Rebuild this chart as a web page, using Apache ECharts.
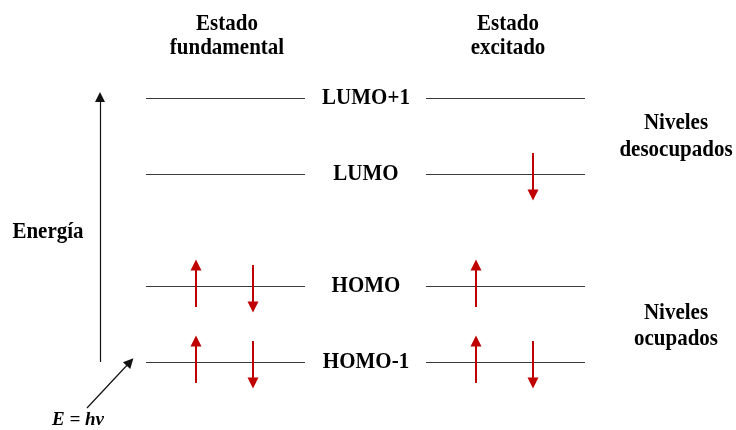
<!DOCTYPE html>
<html>
<head>
<meta charset="utf-8">
<script src="https://cdn.jsdelivr.net/npm/echarts@6/dist/echarts.min.js"></script>
<style>html,body{margin:0;padding:0;background:#fff}#c{width:736px;height:430px}</style>
</head>
<body>
<div id="c"></div>
<script>
// ---- data ----
const levelNames = ['HOMO-1', 'HOMO', 'LUMO', 'LUMO+1'];
const levelEnergy = [0, 76, 188, 264];           // relative energy units
const stateNames = ['Estado\nfundamental', 'Estado\nexcitado'];
// electrons
const electronState = [0, 0, 0, 0, 1, 1, 1, 1];
const electronLevel = ['HOMO-1', 'HOMO-1', 'HOMO', 'HOMO', 'HOMO-1', 'HOMO-1', 'HOMO', 'LUMO'];
const electronSlot  = [0, 1, 0, 1, 0, 1, 0, 1];
const electronSpin  = ['up', 'down', 'up', 'down', 'up', 'down', 'up', 'down'];
const groupNames = ['Niveles\ndesocupados', 'Niveles\nocupados'];
const axisTitle = 'Energía';
const photonLabel = 'E = hν';

// ---- layout (not data) ----
const colStart = [146, 426], colWidth = 159, slotOffset = [50, 107];
const labelX = 366, arrowHalf = 21;
const energyAxisX = 100, energyAxisTop = 265;
const photonFrom = [87, -46];
const FONT = 'Liberation Serif';
const SY = 1.1;

const levelSegs = [];
stateNames.forEach((s, si) => {
  levelEnergy.forEach(e => {
    levelSegs.push({ coords: [[colStart[si], e], [colStart[si] + colWidth, e]] });
  });
});
const elecSegs = electronState.map((si, i) => {
  const e = levelEnergy[levelNames.indexOf(electronLevel[i])];
  const x = colStart[si] + slotOffset[electronSlot[i]];
  const up = electronSpin[i] === 'up';
  return { coords: up ? [[x, e - arrowHalf], [x, e + arrowHalf]] : [[x, e + arrowHalf], [x, e - arrowHalf]] };
});

const chart = echarts.init(document.getElementById('c'));
const txt = (style) => Object.assign({ fontFamily: FONT, fontWeight: 'bold', fontSize: 21, fill: '#000', align: 'center', verticalAlign: 'middle' }, style);
chart.setOption({
  animation: false,
  grid: { left: 0, right: 0, top: 0, bottom: 0 },
  xAxis: { type: 'value', min: 0, max: 736, show: false },
  yAxis: { type: 'value', min: -68, max: 362, show: false },
  series: [
    { type: 'lines', coordinateSystem: 'cartesian2d', symbol: 'none',
      lineStyle: { color: '#3a3a3a', width: 1.2, opacity: 1 }, data: levelSegs, silent: true },
    { type: 'lines', coordinateSystem: 'cartesian2d', symbol: ['none', 'triangle'], symbolSize: [0, 11],
      lineStyle: { color: '#c00000', width: 2, opacity: 1 }, itemStyle: { color: '#c00000' }, data: elecSegs, silent: true },
    { type: 'lines', coordinateSystem: 'cartesian2d', symbol: ['none', 'triangle'], symbolSize: [0, 10],
      lineStyle: { color: '#111', width: 1.2, opacity: 1 }, itemStyle: { color: '#111' },
      data: [{ coords: [[energyAxisX, 0], [energyAxisX, energyAxisTop]] },
             { coords: [photonFrom, [130, 0]] }], silent: true }
  ]
});
// level labels placed through the axes
const levelLabelGraphics = levelNames.map((n, i) => {
  const p = chart.convertToPixel({ gridIndex: 0 }, [labelX, levelEnergy[i]]);
  return { type: 'text', x: p[0], y: p[1], scaleY: SY, style: txt({ text: n }) };
});
chart.setOption({
  graphic: [
    ...levelLabelGraphics,
    { type: 'text', x: 227, y: 36, scaleY: SY, style: txt({ text: stateNames[0], lineHeight: 22.5 }) },
    { type: 'text', x: 508, y: 36, scaleY: SY, style: txt({ text: stateNames[1], lineHeight: 22.5 }) },
    { type: 'text', x: 48, y: 232, scaleY: SY, style: txt({ text: axisTitle }) },
    { type: 'text', x: 676, y: 137, scaleY: SY, style: txt({ text: groupNames[0], lineHeight: 24.5 }) },
    { type: 'text', x: 676, y: 326, scaleY: SY, style: txt({ text: groupNames[1], lineHeight: 24 }) },
    { type: 'text', x: 78, y: 420, style: txt({ text: photonLabel, fontStyle: 'italic', fontSize: 19 }) }
  ]
});
</script>
</body>
</html>
